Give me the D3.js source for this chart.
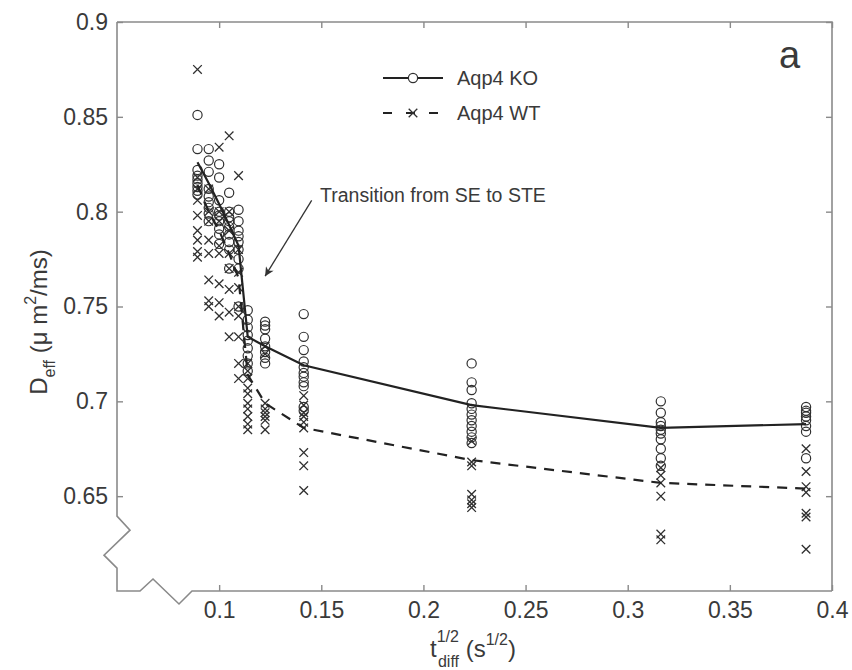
<!DOCTYPE html>
<html><head><meta charset="utf-8">
<script src="https://cdn.jsdelivr.net/npm/d3@7"></script>
<style>
body{margin:0;background:#fff}
text{font-family:"Liberation Sans",Arial,Helvetica,sans-serif;fill:#3a3a3a}
</style>
</head><body>
<svg id="c" width="852" height="670"></svg>
<script>
// ---- data ----
const tSqrt = [0.0894,0.0949,0.1000,0.1049,0.1095,0.1140,0.1225,0.1414,0.2236,0.3162,0.3873];
const koMean = [0.826,0.815,0.804,0.793,0.782,0.734,0.729,0.719,0.698,0.686,0.688];
const wtMean = [0.814,0.800,0.790,0.778,0.765,0.714,0.699,0.686,0.669,0.657,0.654];
const koPoints = [
  [0.851,0.833,0.822,0.819,0.817,0.815,0.813,0.811,0.809],
  [0.833,0.827,0.821,0.812,0.808,0.805,0.802,0.799,0.795],
  [0.825,0.818,0.806,0.800,0.798,0.795,0.791,0.788,0.783],
  [0.810,0.800,0.797,0.795,0.792,0.788,0.784,0.780,0.770],
  [0.801,0.795,0.790,0.787,0.784,0.780,0.775,0.770,0.750],
  [0.748,0.743,0.739,0.735,0.732,0.728,0.724,0.720,0.716],
  [0.742,0.740,0.738,0.733,0.729,0.726,0.723,0.720],
  [0.746,0.734,0.727,0.721,0.718,0.715,0.713,0.710,0.708,0.697,0.695],
  [0.720,0.710,0.706,0.699,0.696,0.693,0.690,0.687,0.684,0.681,0.678],
  [0.700,0.694,0.689,0.687,0.685,0.683,0.680,0.675,0.670,0.666],
  [0.697,0.695,0.694,0.692,0.690,0.687,0.684,0.670]
];
const wtPoints = [
  [0.875,0.818,0.812,0.806,0.798,0.790,0.785,0.779,0.776],
  [0.812,0.800,0.795,0.785,0.778,0.764,0.753,0.750],
  [0.834,0.800,0.795,0.782,0.778,0.762,0.752,0.745],
  [0.840,0.800,0.790,0.778,0.770,0.759,0.747,0.734],
  [0.819,0.780,0.768,0.760,0.750,0.745,0.734,0.720,0.712],
  [0.720,0.716,0.712,0.707,0.704,0.699,0.696,0.692,0.688,0.685],
  [0.729,0.725,0.699,0.696,0.694,0.692,0.690,0.685],
  [0.703,0.698,0.694,0.692,0.689,0.686,0.673,0.666,0.653],
  [0.679,0.668,0.666,0.651,0.648,0.646,0.644],
  [0.665,0.661,0.657,0.650,0.630,0.627],
  [0.675,0.663,0.655,0.652,0.641,0.639,0.622]
];
const xTicks = [0.1,0.15,0.2,0.25,0.3,0.35,0.4];
const xTickLabels = ["0.1","0.15","0.2","0.25","0.3","0.35","0.4"];
const yTicks = [0.65,0.7,0.75,0.8,0.85,0.9];
const yTickLabels = ["0.65","0.7","0.75","0.8","0.85","0.9"];
const seriesNames = ["Aqp4 KO","Aqp4 WT"];

// ---- layout ----
const svg = d3.select("#c");
const L = 117, R = 832, T = 22, B = 591;
const x = d3.scaleLinear().domain([0.05,0.4]).range([L,R]);
const y = d3.scaleLinear().domain([0.6,0.9]).range([B,T]);
const axisColor = "#8a8a8a";
const markColor = "#303030";

// frame top / right
svg.append("path").attr("d",`M${L},${T}H${R}V${B}`).attr("fill","none").attr("stroke",axisColor).attr("stroke-width",1.6);
// broken left & bottom axes
const yb = y(0.65) + 20;
svg.append("path")
  .attr("d",`M${L},${T}V${yb}l13,14l-26,25l13,13V${B}H${L+23}l13,-12l26,25l13,-13H${R}`)
  .attr("fill","none").attr("stroke",axisColor).attr("stroke-width",1.6);

function styleAxis(g){
  g.select(".domain").remove();
  g.selectAll(".tick line").attr("stroke",axisColor).attr("stroke-width",1.4);
  g.selectAll(".tick text").style("font-size","23px").attr("fill","#3a3a3a");
}
svg.append("g").attr("transform",`translate(0,${B})`)
  .call(d3.axisBottom(x).tickValues(xTicks).tickFormat((d,i)=>xTickLabels[i]).tickSizeInner(-6).tickSizeOuter(0).tickPadding(11))
  .call(styleAxis);
svg.append("g").attr("transform",`translate(${L},0)`)
  .call(d3.axisLeft(y).tickValues(yTicks).tickFormat((d,i)=>yTickLabels[i]).tickSizeInner(-6).tickSizeOuter(0).tickPadding(9))
  .call(styleAxis);
svg.append("g").attr("transform",`translate(0,${T})`)
  .call(d3.axisTop(x).tickValues(xTicks).tickFormat("").tickSizeInner(-6).tickSizeOuter(0))
  .call(styleAxis);
svg.append("g").attr("transform",`translate(${R},0)`)
  .call(d3.axisRight(y).tickValues(yTicks).tickFormat("").tickSizeInner(-6).tickSizeOuter(0))
  .call(styleAxis);

// ---- markers ----
const koFlat = [], wtFlat = [];
tSqrt.forEach((xv,i)=>{
  koPoints[i].forEach(v=>koFlat.push([xv,v]));
  wtPoints[i].forEach(v=>wtFlat.push([xv,v]));
});
const crossPath = s => `M${-s},${-s}L${s},${s}M${-s},${s}L${s},${-s}`;
svg.append("g").selectAll("path").data(wtFlat).join("path")
  .attr("transform",d=>`translate(${x(d[0])},${y(d[1])})`)
  .attr("d",crossPath(4.3)).attr("stroke",markColor).attr("stroke-width",1.3).attr("fill","none");
svg.append("g").selectAll("circle").data(koFlat).join("circle")
  .attr("cx",d=>x(d[0])).attr("cy",d=>y(d[1])).attr("r",4.6)
  .attr("fill","none").attr("stroke",markColor).attr("stroke-width",1.2);

// ---- mean lines ----
const line = d3.line().x(d=>x(d[0])).y(d=>y(d[1]));
svg.append("path").datum(tSqrt.map((v,i)=>[v,koMean[i]])).attr("d",line)
  .attr("fill","none").attr("stroke","#222").attr("stroke-width",2.2);
svg.append("path").datum(tSqrt.map((v,i)=>[v,wtMean[i]])).attr("d",line)
  .attr("fill","none").attr("stroke","#222").attr("stroke-width",2.2).attr("stroke-dasharray","10,8");

// ---- legend ----
const lg = svg.append("g");
lg.append("line").attr("x1",383).attr("x2",443).attr("y1",78).attr("y2",78).attr("stroke","#222").attr("stroke-width",2.2);
lg.append("circle").attr("cx",413).attr("cy",78).attr("r",4.6).attr("fill","#fff").attr("stroke",markColor).attr("stroke-width",1.2);
lg.append("line").attr("x1",383).attr("x2",443).attr("y1",113).attr("y2",113).attr("stroke","#222").attr("stroke-width",2.2).attr("stroke-dasharray","9,14");
lg.append("path").attr("transform","translate(413,113)").attr("d",crossPath(4.3)).attr("stroke",markColor).attr("stroke-width",1.3);
lg.append("text").attr("x",457).attr("y",85).style("font-size","20px").text(seriesNames[0]);
lg.append("text").attr("x",457).attr("y",120).style("font-size","20px").text(seriesNames[1]);

// ---- annotation ----
svg.append("defs").append("marker").attr("id","ah").attr("viewBox","0 0 10 10")
  .attr("refX",10).attr("refY",5).attr("markerWidth",12).attr("markerHeight",9)
  .attr("markerUnits","userSpaceOnUse").attr("orient","auto")
  .append("path").attr("d","M0,0L10,5L0,10L3,5Z").attr("fill","#333");
svg.append("line").attr("x1",x(0.1453)).attr("y1",y(0.806)).attr("x2",x(0.1225)).attr("y2",y(0.766))
  .attr("stroke","#333").attr("stroke-width",1.3).attr("marker-end","url(#ah)");
svg.append("text").attr("x",x(0.1494)).attr("y",y(0.805)).style("font-size","19.5px").text("Transition from SE to STE");
svg.append("text").attr("x",779).attr("y",68).style("font-size","38px").text("a");

// ---- axis titles ----
const xt = svg.append("text").attr("x",473).attr("y",657).attr("text-anchor","middle").style("font-size","24px");
xt.append("tspan").text("t");
xt.append("tspan").attr("dy",-15).style("font-size","16px").text("1/2");
xt.append("tspan").attr("dx",-21).attr("dy",25).style("font-size","16px").text("diff");
xt.append("tspan").attr("dy",-10).text(" (s");
xt.append("tspan").attr("dy",-12).style("font-size","16px").text("1/2");
xt.append("tspan").attr("dy",12).text(")");

const yt = svg.append("text").attr("transform","translate(47,322) rotate(-90)").attr("text-anchor","middle").style("font-size","24px");
yt.append("tspan").text("D");
yt.append("tspan").attr("dy",8).style("font-size","16px").text("eff");
yt.append("tspan").attr("dy",-8).text(" (μ m");
yt.append("tspan").attr("dy",-11).style("font-size","16px").text("2");
yt.append("tspan").attr("dy",11).text("/ms)");
</script>
</body></html>
